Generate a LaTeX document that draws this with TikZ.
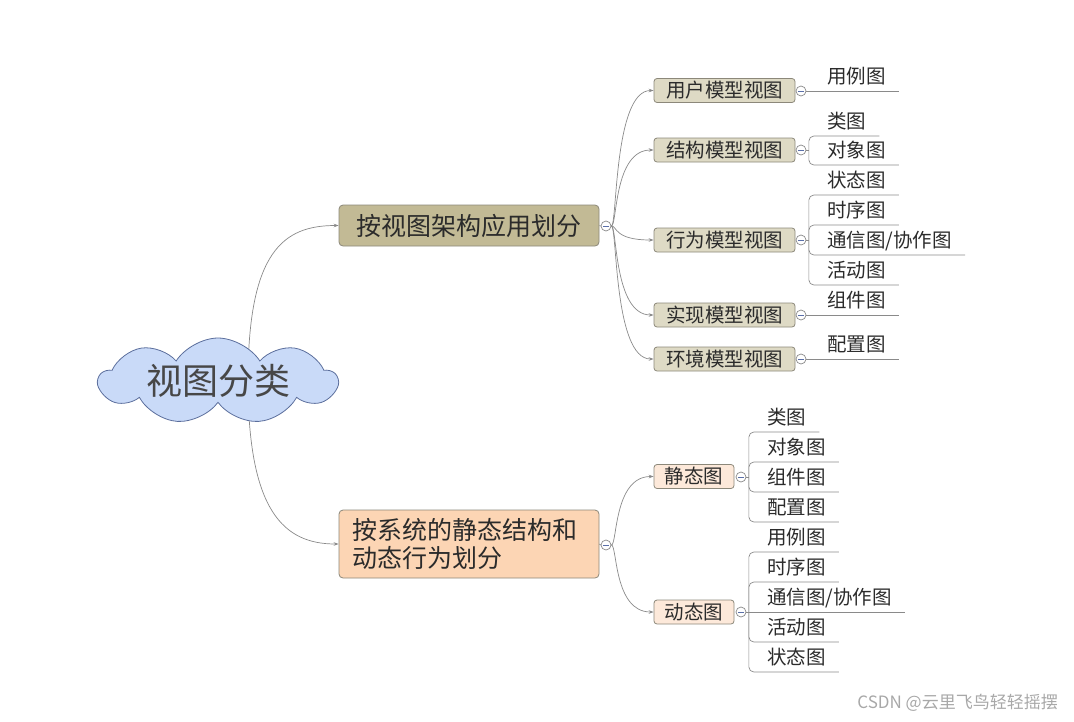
\documentclass[tikz,border=0pt]{standalone}
\usepackage{fontspec}
\setmainfont{Noto Sans CJK SC}
\usetikzlibrary{shapes.symbols,arrows.meta,calc,backgrounds}
\definecolor{cloudfill}{HTML}{C9DAF8}
\definecolor{clouddraw}{HTML}{5B6E9C}
\definecolor{kfill}{HTML}{C2BA95}
\definecolor{ksub}{HTML}{DEDAC5}
\definecolor{pfill}{HTML}{FCD5B4}
\definecolor{psub}{HTML}{FDE9DA}
\definecolor{bord}{HTML}{8C887A}
\definecolor{conn}{HTML}{8A8A8A}
\definecolor{txt}{HTML}{2B2B2B}
\definecolor{minuscol}{HTML}{5A6FA8}
\definecolor{wm}{HTML}{A8A8A8}
\begin{document}
\begin{tikzpicture}[x=1pt,y=-1pt,
  every node/.style={text=txt},
  cloudnode/.style={cloud, cloud puffs=9, cloud puff arc=115, cloud ignores aspect, draw=clouddraw, line width=0.8pt, fill=cloudfill, minimum width=238pt, minimum height=86pt, inner sep=0pt},
  cloudtext/.style={inner sep=0pt, font=\fontsize{36}{40}\selectfont, text=black!72},
  mainbox/.style={rectangle, rounded corners=4pt, draw=bord, line width=0.8pt, minimum width=260pt, inner xsep=13pt, font=\fontsize{25}{28}\selectfont},
  subbox/.style={rectangle, rounded corners=3pt, draw=bord, line width=0.8pt, minimum height=24pt, inner sep=0pt, font=\fontsize{19.5}{22}\selectfont},
  tog/.style={circle, draw=conn, line width=0.7pt, fill=white, minimum size=10pt, inner sep=0pt,
    path picture={\draw[minuscol, line width=0.7pt] ([xshift=-2.6pt]path picture bounding box.center) -- ([xshift=2.6pt]path picture bounding box.center);}},
  leaf/.style={anchor=base west, inner sep=0pt, font=\fontsize{19.5}{22}\selectfont},
  link/.style={draw=conn, line width=0.7pt, -{Stealth[length=5pt,width=3.6pt]}},
  br/.style={draw=conn, line width=0.7pt, rounded corners=5pt},
]
\useasboundingbox (0,0) rectangle (1074,721);

% central cloud
\node[cloudnode] (root) at (218,381) {};
\node[cloudtext] (rootlbl) at (root.center) {视图分类};

% main branches
\node[mainbox, fill=kfill, minimum height=41pt] (m1) at (469,225.5) {按视图架构应用划分};
\node[mainbox, fill=pfill, minimum height=68pt, text width=234pt, align=left] (m2) at (469,544) {按系统的静态结构和\\动态行为划分};
\node[tog] (tm1) at (606,226) {};
\node[tog] (tm2) at (606,545) {};

% level 2 (branch 1)
\node[subbox, fill=ksub, minimum width=141pt] (a1) at (724.5,90.5) {用户模型视图};
\node[subbox, fill=ksub, minimum width=141pt] (a2) at (724.5,150) {结构模型视图};
\node[subbox, fill=ksub, minimum width=141pt] (a3) at (724.5,240) {行为模型视图};
\node[subbox, fill=ksub, minimum width=141pt] (a4) at (724.5,315) {实现模型视图};
\node[subbox, fill=ksub, minimum width=141pt] (a5) at (724.5,359) {环境模型视图};
\node[tog] (ta1) at (801,91) {};
\node[tog] (ta2) at (801,150) {};
\node[tog] (ta3) at (801,240) {};
\node[tog] (ta4) at (801,315) {};
\node[tog] (ta5) at (801,359) {};

% level 2 (branch 2)
\node[subbox, fill=psub, minimum width=80pt] (b1) at (694,476.5) {静态图};
\node[subbox, fill=psub, minimum width=80pt] (b2) at (694,612) {动态图};
\node[tog] (tb1) at (741,477) {};
\node[tog] (tb2) at (741,612) {};

\begin{pgfonlayer}{background}
  \draw[link] ([xshift=30pt]root.center) .. controls +(0,-130) and +(-55,0) .. (m1.west);
  \draw[link] ([xshift=30pt]root.center) .. controls +(0,130) and +(-55,0) .. (m2.west);
\end{pgfonlayer}

\draw[br] (m1.east) -- (tm1.west);
\draw[br] (m2.east) -- (tm2.west);
\foreach \n in {a1,a2,a3,a4,a5}{
  \draw[link] (tm1.east) .. controls +(6,0) and +(-40,0) .. (\n.west);
}
\foreach \n in {b1,b2}{
  \draw[link] (tm2.east) .. controls +(6,0) and +(-40,0) .. (\n.west);
}

% leaves of branch 1
\node[leaf] (l11) at (827,83) {用例图};
\draw[br] (ta1.east) -- ($(l11.base east)+(13,8)$);
\node[leaf] (l41) at (827,307) {组件图};
\draw[br] (ta4.east) -- ($(l41.base east)+(13,8)$);
\node[leaf] (l51) at (827,351) {配置图};
\draw[br] (ta5.east) -- ($(l51.base east)+(13,8)$);

\node[leaf] (l21) at (827,128) {类图};
\node[leaf] (l22) at (827,157) {对象图};
\draw[br] (ta2.east) -- ([xshift=2.5pt]ta2.east);
\foreach \n in {l21,l22}{
  \draw[br] ([xshift=2.5pt]ta2.east) |- ($(\n.base east)+(13,8)$);
}

\node[leaf] (l31) at (827,187) {状态图};
\node[leaf] (l32) at (827,217) {时序图};
\node[leaf] (l33) at (827,247) {通信图/协作图};
\node[leaf] (l34) at (827,277) {活动图};
\draw[br] (ta3.east) -- ([xshift=2.5pt]ta3.east);
\foreach \n in {l31,l32,l33,l34}{
  \draw[br] ([xshift=2.5pt]ta3.east) |- ($(\n.base east)+(13,8)$);
}

% leaves of branch 2
\node[leaf] (s11) at (767,424) {类图};
\node[leaf] (s12) at (767,454) {对象图};
\node[leaf] (s13) at (767,484) {组件图};
\node[leaf] (s14) at (767,514) {配置图};
\draw[br] (tb1.east) -- ([xshift=2.5pt]tb1.east);
\foreach \n in {s11,s12,s13,s14}{
  \draw[br] ([xshift=2.5pt]tb1.east) |- ($(\n.base east)+(13,8)$);
}

\node[leaf] (s21) at (767,544) {用例图};
\node[leaf] (s22) at (767,574) {时序图};
\node[leaf] (s23) at (767,604) {通信图/协作图};
\node[leaf] (s24) at (767,634) {活动图};
\node[leaf] (s25) at (767,664) {状态图};
\draw[br] (tb2.east) -- ($(s23.base east)+(13,8)$);
\foreach \n in {s21,s22,s24,s25}{
  \draw[br] ([xshift=2.5pt]tb2.east) |- ($(\n.base east)+(13,8)$);
}

% watermark
\node[anchor=east, inner sep=0pt, text=wm, font=\fontsize{17}{20}\selectfont] (wmk) at (1058,703) {CSDN @云里飞鸟轻轻摇摆};
\end{tikzpicture}
\end{document}
